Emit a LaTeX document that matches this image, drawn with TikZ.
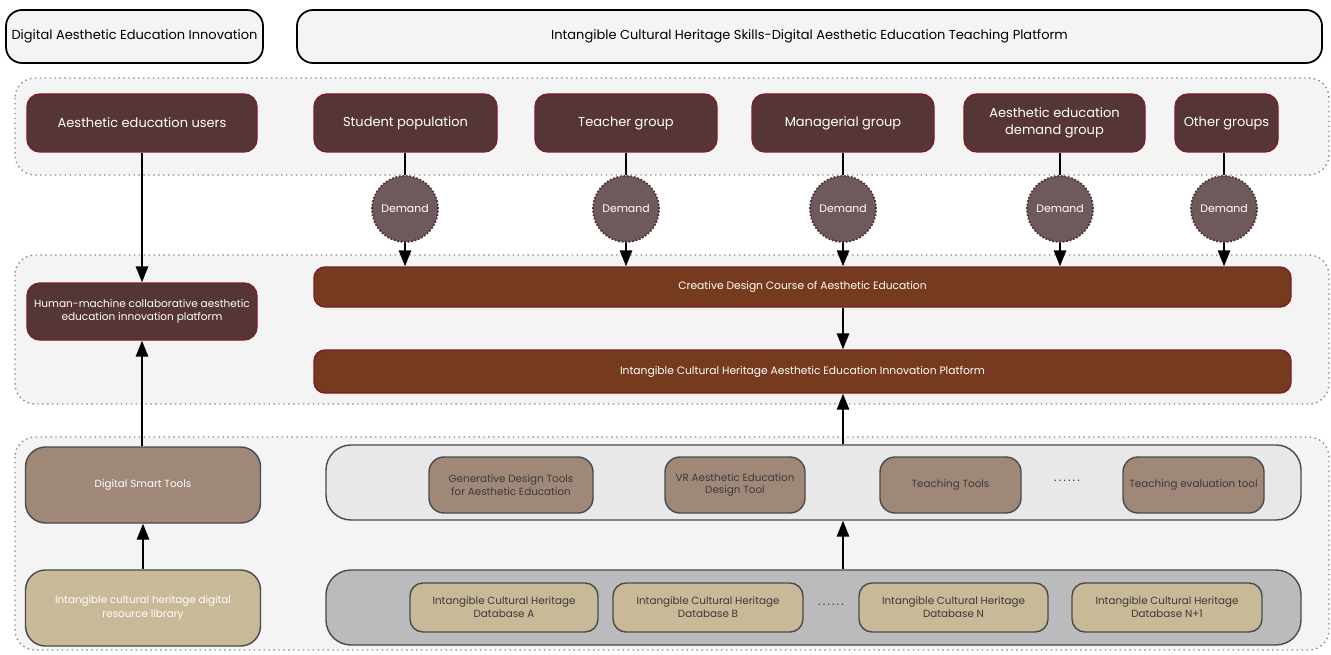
\documentclass[tikz,border=0pt]{standalone}
\usepackage{fontspec}
\setmainfont{Poppins}
\usetikzlibrary{arrows.meta}

\definecolor{panelbg}{HTML}{F5F4F5}
\definecolor{panelline}{HTML}{8C8C8C}
\definecolor{groupfill}{HTML}{553536}
\definecolor{groupline}{HTML}{7C1E2A}
\definecolor{needfill}{HTML}{6E5A5B}
\definecolor{needline}{HTML}{4E3234}
\definecolor{coursefill}{HTML}{763A1E}
\definecolor{toolfill}{HTML}{A08878}
\definecolor{datafill}{HTML}{C8BA98}
\definecolor{toolbg}{HTML}{E8E8E8}
\definecolor{databg}{HTML}{BBBABC}
\definecolor{boxline}{HTML}{4A4A4A}
\definecolor{darktext}{HTML}{3A3A3A}

\tikzset{
  wh/.style 2 args={minimum width=#1*0.02cm, minimum height=#2*0.02cm},
  titlebox/.style={draw=black, line width=1pt, fill=panelbg, rounded corners=0.32cm,
    inner sep=0pt, font=\fontsize{7.4}{9}\selectfont},
  panel/.style={draw=panelline, dotted, line width=0.8pt, fill=panelbg, rounded corners=0.4cm},
  group/.style={draw=groupline, line width=0.8pt, fill=groupfill, rounded corners=0.26cm,
    text=white, align=center, inner sep=0pt, font=\fontsize{7.4}{9.8}\selectfont},
  need/.style={circle, draw=needline, densely dotted, line width=1pt, fill=needfill,
    text=white, minimum size=1.32cm, inner sep=0pt, font=\fontsize{6.2}{7}\selectfont},
  course/.style={draw=groupline, line width=0.8pt, fill=coursefill, rounded corners=0.22cm,
    text=white, inner sep=0pt, font=\fontsize{6.1}{7}\selectfont},
  holder/.style={draw=boxline, line width=0.8pt, rounded corners=0.5cm, inner sep=0pt},
  tool/.style={draw=boxline, line width=0.8pt, fill=toolfill, rounded corners=0.3cm,
    text=darktext, align=center, inner sep=0pt, font=\fontsize{5.9}{7.2}\selectfont},
  data/.style={draw=boxline, line width=0.8pt, fill=datafill, rounded corners=0.26cm,
    text=darktext, align=center, inner sep=0pt, font=\fontsize{5.9}{7.4}\selectfont},
  side/.style={draw=boxline, line width=0.8pt, rounded corners=0.4cm, text=white,
    align=center, inner sep=0pt, font=\fontsize{5.9}{7.6}\selectfont},
  flow/.style={line width=0.9pt, -{Triangle[width=7pt,length=9pt]}},
  link/.style={line width=0.9pt}
}

\begin{document}
\begin{tikzpicture}[x=0.02cm, y=-0.02cm]
  \useasboundingbox (0,0) rectangle (1331,655);
  % headings
  \node[titlebox, wh={257}{53}] (head1) at (134.5,36.5) {Digital Aesthetic Education Innovation};
  \node[titlebox, wh={1025}{53}] (head2) at (809.5,36.5)
    {Intangible Cultural Heritage Skills-Digital Aesthetic Education Teaching Platform};

  % the three dotted layers
  \draw[panel] (15,78) rectangle (1329,175);
  \draw[panel] (15,255) rectangle (1329,404);
  \draw[panel] (15,437) rectangle (1329,650);

  % user groups
  \node[group, wh={230}{58}] (users) at (142,123) {Aesthetic education users};
  \node[group, wh={183}{58}] (student) at (405.5,123) {Student population};
  \node[group, wh={182}{58}] (teacher) at (626,123) {Teacher group};
  \node[group, wh={182}{58}] (manager) at (843,123) {Managerial group};
  \node[group, wh={181}{58}] (demgroup) at (1054.5,123) {Aesthetic education\\demand group};
  \node[group, wh={103}{58}] (others) at (1226.5,123) {Other groups};

  \node[need] (need1) at (405,209) {Demand};
  \node[need] (need2) at (626,209) {Demand};
  \node[need] (need3) at (843,209) {Demand};
  \node[need] (need4) at (1060,209) {Demand};
  \node[need] (need5) at (1224,209) {Demand};

  % platforms
  \node[group, wh={230}{57}, font=\fontsize{6}{7.6}\selectfont] (hmc) at (142,311.5)
    {Human-machine collaborative aesthetic\\education innovation platform};
  \node[course, wh={977}{40}] (course) at (802.5,287) {Creative Design Course of Aesthetic Education};
  \node[course, wh={977}{43}] (ichplat) at (802.5,371.5)
    {Intangible Cultural Heritage Aesthetic Education Innovation Platform};

  % tools and resources
  \node[side, fill=toolfill, wh={235}{76}] (smart) at (143,485) {Digital Smart Tools};
  \node[side, fill=datafill, wh={235}{76}] (library) at (143,608)
    {Intangible cultural heritage digital\\resource library};

  \node[holder, fill=toolbg, wh={975}{75}] (toolrow) at (813.5,482.5) {};
  \node[tool, wh={164}{56}] (gentool) at (511,485) {Generative Design Tools\\for Aesthetic Education};
  \node[tool, wh={140}{56}] (vrtool) at (735,485) {VR Aesthetic Education\\Design Tool};
  \node[tool, wh={141}{56}] (teachtool) at (950.5,485) {Teaching Tools};
  \node[text=darktext, font=\fontsize{7}{8}\selectfont] (tooldots) at (1067,481) {.\,.\,.\,.\,.\,.};
  \node[tool, wh={141}{56}] (evaltool) at (1193.5,485) {Teaching evaluation tool};

  \node[holder, fill=databg, wh={975}{75}] (datarow) at (813.5,607.5) {};
  \node[data, wh={188}{49}] (dbA) at (504,607.5) {Intangible Cultural Heritage\\Database A};
  \node[data, wh={190}{49}] (dbB) at (708,607.5) {Intangible Cultural Heritage\\Database B};
  \node[text=darktext, font=\fontsize{7}{8}\selectfont] (datadots) at (831,605) {.\,.\,.\,.\,.\,.};
  \node[data, wh={189}{49}] (dbN) at (953.5,607.5) {Intangible Cultural Heritage\\Database N};
  \node[data, wh={190}{49}] (dbN1) at (1167,607.5) {Intangible Cultural Heritage\\Database N+1};

  % connectors
  \draw[flow] (users) -- (hmc);
  \draw[flow] (library) -- (smart);
  \draw[flow] (smart.north -| hmc) -- (hmc);
  \foreach \g/\n in {student/need1, teacher/need2, manager/need3, demgroup/need4, others/need5} {
    \draw[link] (\n |- \g.south) -- (\n);
    \draw[flow] (\n) -- (\n |- course.north);
  }
  \draw[flow] (course.south -| need3) -- (ichplat.north -| need3);
  \draw[flow] (toolrow.north -| need3) -- (ichplat.south -| need3);
  \draw[flow] (datarow.north -| need3) -- (toolrow.south -| need3);
\end{tikzpicture}
\end{document}
